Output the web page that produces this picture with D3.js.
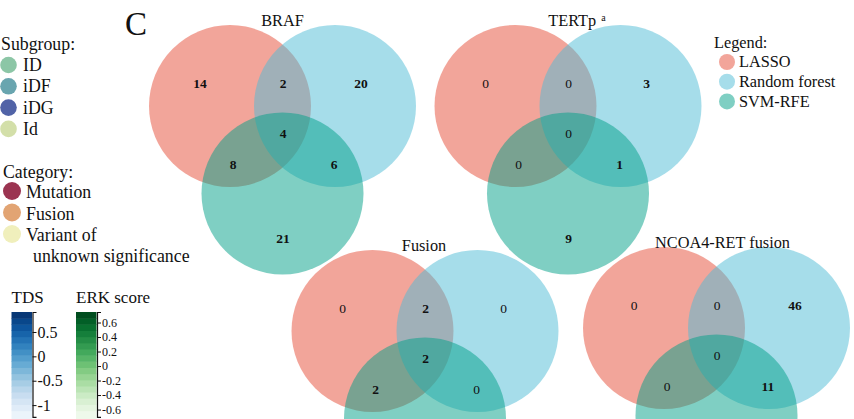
<!DOCTYPE html>
<html>
<head>
<meta charset="utf-8">
<script src="https://cdn.jsdelivr.net/npm/d3@7/dist/d3.min.js"></script>
<style>
  html, body { margin: 0; padding: 0; background: #fff; }
  svg { display: block; }
</style>
</head>
<body>
<svg id="chart" width="854" height="419"></svg>
<script>
// ---- data ----
const methods = ["LASSO", "Random forest", "SVM-RFE"];
const methodColors = ["#E64B35", "#4DBBD5", "#00A087"];

const genes = ["BRAF", "TERTp", "Fusion", "NCOA4-RET fusion"];
const geneSuperscripts = ["", "a", "", ""];

// region counts, in order: LASSO only, LASSO∩RF, RF only, all three,
// LASSO∩SVM, RF∩SVM, SVM only (null = region outside the figure)
const brafCounts    = [14, 2, 20, 4, 8, 6, 21];
const tertpCounts   = [0, 0, 3, 0, 0, 1, 9];
const fusionCounts  = [0, 2, 0, 2, 2, 0, null];
const ncoa4RetCounts = [0, 0, 46, 0, 0, 11, null];
const geneCounts = [brafCounts, tertpCounts, fusionCounts, ncoa4RetCounts];

const subgroups = ["ID", "iDF", "iDG", "Id"];
const subgroupColors = ["#8cc6a6", "#69a5af", "#5163a7", "#d3dfa9"];

const categories = ["Mutation", "Fusion", "Variant of|unknown significance"];
const categoryColors = ["#9b3451", "#e2a473", "#f0efbc"];

const tdsDomain = [-1.24, 0.91];
const tdsTicks = [-1, -0.5, 0, 0.5];
const erkDomain = [-0.70, 0.745];
const erkTicks = [-0.6, -0.4, -0.2, 0, 0.2, 0.4, 0.6];

// ---- layout ----
const FONT = '"Liberation Serif", "Times New Roman", Tinos, serif';
const svg = d3.select("#chart")
  .attr("font-family", FONT)
  .style("font-family", FONT);
const R = 81;
// circle centres relative to the LASSO circle
const circleOffsets = [[0, 0], [105, 0], [52.5, 87.5]];
// label positions relative to the LASSO circle centre, same order as the counts
const labelOffsets = [[-30, -23], [53, -23], [131, -23], [53, 27], [3, 58], [104, 58], [53, 132]];
const panels = [
  { x: 230,   y: 106, titleDx: 0 },
  { x: 515.5, y: 106, titleDx: 9 },
  { x: 372.5, y: 331, titleDx: -1 },
  { x: 664,   y: 328, titleDx: 6 }
];

function txt(sel) {
  return sel.append("text").style("font-family", FONT).attr("fill", "#111");
}

// panel letter
txt(svg).attr("x", 125).attr("y", 35)
  .style("font-size", "33px").text("C");

// venn diagrams
genes.forEach((gene, gi) => {
  const p = panels[gi];
  const g = svg.append("g").attr("transform", `translate(${p.x},${p.y})`);
  methods.forEach((m, mi) => {
    g.append("circle")
      .attr("cx", circleOffsets[mi][0]).attr("cy", circleOffsets[mi][1])
      .attr("r", R)
      .attr("fill", methodColors[mi]).attr("fill-opacity", 0.5);
  });
  const title = txt(g)
    .attr("x", 52.5 + p.titleDx).attr("y", -80)
    .attr("text-anchor", "middle")
    .style("font-size", "16.3px")
    .text(gene);
  if (geneSuperscripts[gi]) {
    title.append("tspan").attr("dx", 5).attr("dy", -5)
      .style("font-size", "10px").text(geneSuperscripts[gi]);
  }
  geneCounts[gi].forEach((v, ri) => {
    if (v === null) return;
    txt(g)
      .attr("x", labelOffsets[ri][0]).attr("y", labelOffsets[ri][1] + 4.7)
      .attr("text-anchor", "middle")
      .style("font-size", "13.5px")
      .style("font-weight", v > 0 ? "bold" : "normal")
      .text(v);
  });
});

// method legend
const lg = svg.append("g");
txt(lg).attr("x", 714).attr("y", 47.5).style("font-size", "16.3px").text("Legend:");
methods.forEach((m, i) => {
  const y = 62 + i * 19.7;
  lg.append("circle").attr("cx", 727).attr("cy", y).attr("r", 8)
    .attr("fill", methodColors[i]).attr("fill-opacity", 0.5);
  txt(lg).attr("x", 739).attr("y", y + 5.4).style("font-size", "16.3px").text(m);
});

// subgroup legend
const sg = svg.append("g");
txt(sg).attr("x", 1).attr("y", 49.5).style("font-size", "17.8px").text("Subgroup:");
subgroups.forEach((s, i) => {
  const y = 65 + i * 21.3;
  sg.append("circle").attr("cx", 8.5).attr("cy", y).attr("r", 8.3).attr("fill", subgroupColors[i]);
  txt(sg).attr("x", 23).attr("y", y + 6).style("font-size", "17.8px").text(s);
});

// category legend
const cg = svg.append("g");
txt(cg).attr("x", 3).attr("y", 178).style("font-size", "17.8px").text("Category:");
categories.forEach((c, i) => {
  const y = 191 + i * 21.5;
  cg.append("circle").attr("cx", 12).attr("cy", y).attr("r", 9).attr("fill", categoryColors[i]);
  const parts = c.split("|");
  const t = txt(cg).attr("x", 26).attr("y", y + 7).style("font-size", "17.8px");
  t.append("tspan").text(parts[0]);
  if (parts[1]) t.append("tspan").attr("x", 33).attr("dy", 20.5).text(parts[1]);
});

// colour bars
function colorBar(x, title, domain, ticks, interp, tickFont) {
  const y = d3.scaleLinear().domain(domain).range([416.8, 312]);
  const g = svg.append("g");
  txt(g).attr("x", x).attr("y", 302.5).style("font-size", "17px").text(title);
  const n = 17;
  const step = (domain[1] - domain[0]) / n;
  d3.range(n).forEach(i => {
    const lo = domain[0] + i * step, hi = lo + step;
    g.append("rect")
      .attr("x", x).attr("width", 20.5)
      .attr("y", y(hi)).attr("height", (i === 0 ? y(lo) + 4 : y(lo)) - y(hi) + 0.5)
      .attr("fill", interp(0.03 + 0.97 * (i + 0.5) / n));
  });
  const axis = d3.axisRight(y).tickValues(ticks).tickSize(4).tickPadding(1)
    .tickFormat(d => String(d));
  const ag = g.append("g").attr("transform", `translate(${x + 21},0)`).call(axis);
  ag.attr("font-family", FONT);
  ag.select(".domain").attr("stroke", "#111").attr("stroke-width", 1.2);
  ag.selectAll(".tick line").attr("stroke", "#111");
  ag.selectAll(".tick text")
    .style("font-family", FONT)
    .style("font-size", tickFont).attr("fill", "#111");
}
colorBar(11.5, "TDS", tdsDomain, tdsTicks, d3.interpolateBlues, "16px");
colorBar(76, "ERK score", erkDomain, erkTicks, d3.interpolateGreens, "12px");
</script>
</body>
</html>
